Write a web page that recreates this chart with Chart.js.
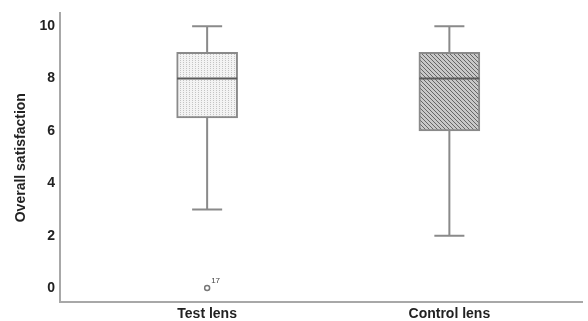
<!DOCTYPE html>
<html>
<head>
<meta charset="utf-8">
<script src="https://cdn.jsdelivr.net/npm/chart.js@4/dist/chart.umd.min.js"></script>
<style>
html,body{margin:0;padding:0;background:#fff;}
#wrap{width:588px;height:321px;position:relative;}
</style>
</head>
<body>
<div id="wrap"><canvas id="c" width="588" height="321"></canvas></div>
<script>
// ---- data ----
const categories = ['Test lens', 'Control lens'];
const mins    = [3, 2];
const q1s     = [6.5, 6];
const medians = [8, 8];
const q3s     = [9, 9];
const maxs    = [10, 10];
const outlierValues = [0, null];
const outlierLabels = ['17', ''];
const yTicks = [0, 2, 4, 6, 8, 10];

// ---- patterns ----
function dotPattern() {
  const c = document.createElement('canvas'); c.width = 3; c.height = 2;
  const g = c.getContext('2d');
  g.fillStyle = '#f3f3f3'; g.fillRect(0, 0, 3, 2);
  g.fillStyle = '#c4c4c4'; g.fillRect(0, 0, 1, 1);
  return g.createPattern(c, 'repeat');
}
function hatchPattern() {
  const c = document.createElement('canvas'); c.width = 4; c.height = 4;
  const g = c.getContext('2d');
  g.fillStyle = '#c8c8c8'; g.fillRect(0, 0, 4, 4);
  g.fillStyle = '#666666';
  for (let i = 0; i < 4; i++) { g.fillRect(i, i, 1, 1); }
  return g.createPattern(c, 'repeat');
}
const fills = [dotPattern(), hatchPattern()];

const edge = '#8a8a8a';
const capHalf = 0.062;   // half width of whisker caps (x units)
const boxHalf = 0.124;   // half width of box (x units)

const datasets = [];
datasets.push({
  type: 'bar',
  data: categories.map((c, i) => ({ x: i + 1, y: [q1s[i], q3s[i]] })),
  backgroundColor: fills,
  borderColor: edge,
  borderWidth: 2,
  borderSkipped: false,
  barThickness: 61,
  order: 3
});
function seg(pts, color, order, w) {
  datasets.push({
    type: 'line', data: pts, borderColor: color, borderWidth: w || 2,
    pointRadius: 0, fill: false, order: order, tension: 0
  });
}
categories.forEach((c, i) => {
  const x = i + 1;
  seg([{ x: x, y: q3s[i] }, { x: x, y: maxs[i] }], edge, 2);
  seg([{ x: x, y: mins[i] }, { x: x, y: q1s[i] }], edge, 2);
  seg([{ x: x - capHalf, y: maxs[i] }, { x: x + capHalf, y: maxs[i] }], edge, 2);
  seg([{ x: x - capHalf, y: mins[i] }, { x: x + capHalf, y: mins[i] }], edge, 2);
  seg([{ x: x - boxHalf, y: medians[i] }, { x: x + boxHalf, y: medians[i] }], '#5a5a5a', 1, 2);
});
const outIdx = datasets.length;
datasets.push({
  type: 'scatter',
  data: outlierValues.map((v, i) => v === null ? null : ({ x: i + 1, y: v })).filter(p => p),
  labels: outlierLabels.filter(l => l),
  pointRadius: 2.5, pointBorderWidth: 1.5,
  pointBorderColor: '#777', pointBackgroundColor: '#fff', order: 0
});

const outlierLabelPlugin = {
  id: 'outlierLabel',
  afterDatasetsDraw(chart) {
    const ds = chart.data.datasets[outIdx];
    const meta = chart.getDatasetMeta(outIdx);
    const ctx = chart.ctx;
    ctx.save();
    ctx.font = '8px "Liberation Sans", Arial, sans-serif';
    ctx.fillStyle = '#444';
    ctx.textAlign = 'left'; ctx.textBaseline = 'middle';
    meta.data.forEach((pt, i) => {
      ctx.fillText(ds.labels[i], pt.x + 4, pt.y - 7);
    });
    ctx.restore();
  }
};

const FONT = '"Liberation Sans", Arial, sans-serif';

new Chart(document.getElementById('c'), {
  type: 'bar',
  data: { datasets: datasets },
  plugins: [outlierLabelPlugin],
  options: {
    responsive: false,
    animation: false,
    layout: { padding: { top: 1, right: 0, left: 0, bottom: 0 } },
    plugins: { legend: { display: false }, tooltip: { enabled: false } },
    scales: {
      x: {
        type: 'linear', min: 0.3926, max: 2.5496, offset: false,
        grid: { display: false, drawTicks: false },
        border: { display: true, color: '#a8a8a8', width: 2 },
        afterBuildTicks(s) { s.ticks = categories.map((c, i) => ({ value: i + 1 })); },
        afterFit(s) { s.height = 19; },
        ticks: {
          callback: (v) => categories[v - 1] || '',
          color: '#222', padding: 4, maxRotation: 0, autoSkip: false,
          font: { family: FONT, size: 14, weight: 'bold' }
        }
      },
      y: {
        type: 'linear', min: -0.53, max: 10.49,
        grid: { display: false, drawTicks: false },
        border: { display: true, color: '#a8a8a8', width: 2 },
        afterBuildTicks(s) { s.ticks = yTicks.map(v => ({ value: v })); },
        afterFit(s) { s.width = 60; },
        ticks: {
          color: '#222', padding: 5,
          font: { family: FONT, size: 14, weight: 'bold' }
        },
        title: {
          display: true, text: 'Overall satisfaction', color: '#222', padding: { top: 13, bottom: 0 },
          font: { family: FONT, size: 14, weight: 'bold' }
        }
      }
    }
  }
});
</script>
</body>
</html>
